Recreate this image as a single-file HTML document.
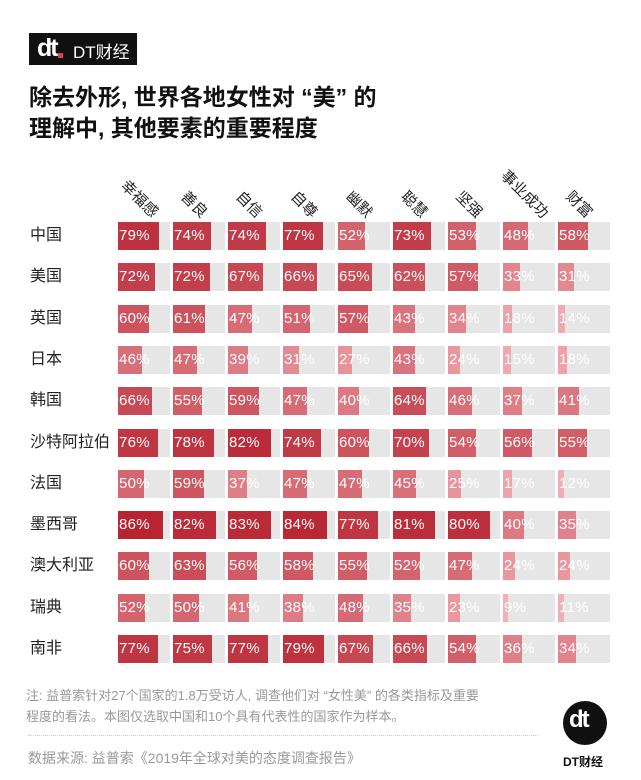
<!DOCTYPE html>
<html><head><meta charset="utf-8"><style>
body{margin:0;width:641px;height:780px;background:#fff;position:relative;overflow:hidden;font-family:"Liberation Sans","Noto Sans CJK SC",sans-serif}
.a{position:absolute}
.lab{position:absolute;left:30px;font-size:16px;color:#222;line-height:28px}
.tr{position:absolute;width:52px;height:28px;background:#e6e6e6}
.f{position:absolute;left:0;top:0;height:28px}
.t{position:absolute;left:1px;top:0;line-height:28px;font-size:15px;color:#fff;letter-spacing:0.3px}
.h{position:absolute;font-size:15px;color:#222;transform:rotate(45deg);transform-origin:left center;white-space:nowrap}
</style></head><body>
<div class="a" style="left:29px;top:33px;width:108px;height:32px;background:#111"></div>
<div class="a" style="left:37px;top:34px;font-size:25px;font-weight:bold;color:#fff;letter-spacing:-2px">dt</div>
<div class="a" style="left:58px;top:53px;width:5px;height:5px;background:#e04050"></div>
<div class="a" style="left:73px;top:38px;font-size:17px;color:#fff">DT财经</div>
<div class="a" style="left:29px;top:82px;font-size:23px;font-weight:bold;color:#111;line-height:31px">除去外形, 世界各地女性对 “美” 的<br>理解中, 其他要素的重要程度</div>
<div id="c"></div>
<div class="a" style="left:26px;top:685px;font-size:13px;color:#999;line-height:21px">注: 益普索针对27个国家的1.8万受访人, 调查他们对 “女性美” 的各类指标及重要<br>程度的看法。本图仅选取中国和10个具有代表性的国家作为样本。</div>
<div class="a" style="left:28px;top:735px;width:510px;border-top:1px dotted #ccc"></div>
<div class="a" style="left:28px;top:748px;font-size:14px;color:#999">数据来源: 益普索《2019年全球对美的态度调查报告》</div>
<div class="a" style="left:563px;top:701px;width:44px;height:44px;border-radius:50%;background:#111"></div>
<div class="a" style="left:569px;top:706px;font-size:24px;font-weight:bold;color:#fff;letter-spacing:-2px">dt</div>
<div class="a" style="left:563px;top:753px;font-size:12px;color:#111;font-weight:bold">DT财经</div>
<script>
var rows=[["中国",[79,74,74,77,52,73,53,48,58]],["美国",[72,72,67,66,65,62,57,33,31]],["英国",[60,61,47,51,57,43,34,18,14]],["日本",[46,47,39,31,27,43,24,15,18]],["韩国",[66,55,59,47,40,64,46,37,41]],["沙特阿拉伯",[76,78,82,74,60,70,54,56,55]],["法国",[50,59,37,47,47,45,25,17,12]],["墨西哥",[86,82,83,84,77,81,80,40,35]],["澳大利亚",[60,63,56,58,55,52,47,24,24]],["瑞典",[52,50,41,38,48,35,23,9,11]],["南非",[77,75,77,79,67,66,54,36,34]]];
var hs=["幸福感","善良","自信","自尊","幽默","聪慧","坚强","事业成功","财富"];
var h="";
function col(v){var t=Math.max(0,Math.min(1,(v-10)/76));var a=[244,176,182],b=[184,36,50];return "rgb("+a.map((x,i)=>Math.round(x+(b[i]-x)*t)).join(",")+")";}
hs.forEach(function(s,j){var x=118+j*55;var L=s.length*15;var d=L*0.707;h+='<div class="h" style="left:'+(x+22-d/2)+'px;top:'+(204-d)+'px">'+s+'</div>';});
rows.forEach(function(r,i){var y=222+i*41.3;h+='<div class="lab" style="top:'+y+'px">'+r[0]+'</div>';r[1].forEach(function(v,j){var x=118+j*55;h+='<div class="tr" style="left:'+x+'px;top:'+y+'px"><div class="f" style="width:'+(52*v/100)+'px;background:'+col(v)+'"></div><div class="t">'+v+'%</div></div>';});});
document.getElementById("c").innerHTML=h;
</script>
</body></html>
